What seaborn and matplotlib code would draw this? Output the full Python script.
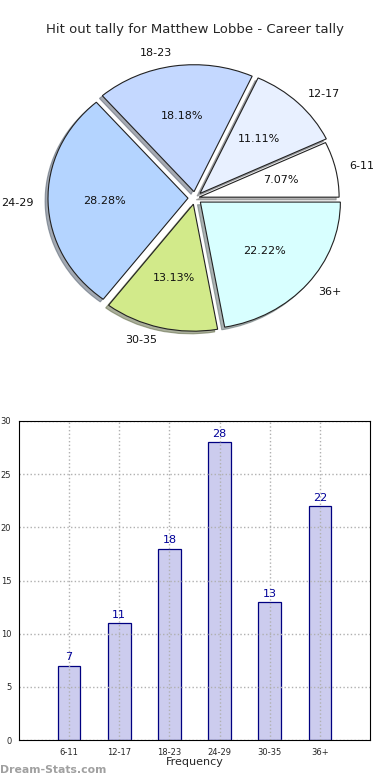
import matplotlib
matplotlib.use("Agg")
import matplotlib.pyplot as plt
import seaborn as sns
import pandas as pd

categories = ["6-11", "12-17", "18-23", "24-29", "30-35", "36+"]
counts = [7, 11, 18, 28, 13, 22]
pie_colors = ["#ffffff", "#e8f0ff", "#c4d8ff", "#b4d4ff", "#d2ea8a", "#d8ffff"]
title = "Hit out tally for Matthew Lobbe - Career tally"
ylabel = "Stat Hit Out Tally"
xlabel = "Frequency"
yticks = [0, 5, 10, 15, 20, 25, 30]

sns.set_style("white")
plt.rcParams["font.family"] = ["DejaVu Sans"]

fig = plt.figure(figsize=(3.9, 7.8), dpi=100)

# Pie (slightly squashed vertically like the reference)
RX = 140.0
RY = 127.0
axp = fig.add_axes([0.0, (780 - 393) / 780, 1.0, 390 / 780])
wedges, texts, autotexts = axp.pie(
    counts, labels=categories, colors=pie_colors, startangle=0,
    explode=[0.03, 0.05, 0.05, 0.05, 0.05, 0.05],
    shadow=dict(ox=-0.015, oy=-0.015, shade=0.6),
    autopct="%.2f%%", pctdistance=0.6, labeldistance=1.1,
    wedgeprops=dict(edgecolor="#222222", linewidth=0.8),
    textprops=dict(fontsize=8, color="#111111"))
axp.set_aspect("auto")
axp.set_xlim(-195 / RX, 195 / RX)
axp.set_ylim(-195 / RY, 195 / RY)
axp.axis("off")
fig.text(0.5, 1 - 30 / 780, title, ha="center", va="center", fontsize=9.5)

# Bars
axb = fig.add_axes([19 / 390, 40 / 780, 351 / 390, 319 / 780])
df = pd.DataFrame({"cat": categories, "count": counts})
sns.barplot(data=df, x="cat", y="count", ax=axb, color="#ccccee",
            edgecolor="#000080", linewidth=0.9, width=0.45, saturation=1)
for i, v in enumerate(counts):
    axb.text(i, v + 0.3, str(v), ha="center", va="bottom", fontsize=8, color="#000099")
axb.set_xlim(-1, 6)
axb.set_ylim(0, 30)
axb.set_yticks(yticks)
axb.tick_params(axis="both", labelsize=6, length=2)
axb.grid(True, linestyle=":", color="#b0b0b0", linewidth=1)
axb.set_axisbelow(False)
for s in axb.spines.values():
    s.set_color("black")
    s.set_linewidth(0.8)
    s.set_zorder(5)
axb.set_xlabel(xlabel, fontsize=8, labelpad=0)
axb.set_ylabel(ylabel, fontsize=7, labelpad=3)

fig.text(0.0, 10 / 780, "Dream-Stats.com", fontsize=7.8, color="#a0a0a0",
         ha="left", va="center", fontweight="bold")

fig.savefig("out.png", dpi=100)
